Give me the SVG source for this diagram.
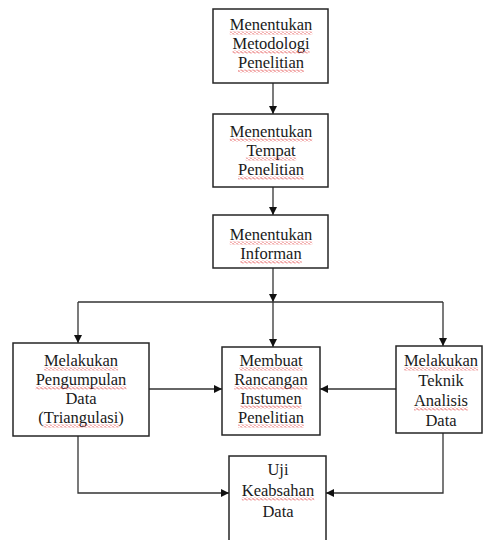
<svg xmlns="http://www.w3.org/2000/svg" width="483" height="540" viewBox="0 0 483 540">
<style>
.box{fill:#fff;stroke:#262626;stroke-width:1.5}
.t{font-family:"Liberation Serif","Times New Roman",serif;font-size:16.5px;fill:#1a1a1a;text-anchor:middle}
.c{fill:none;stroke:#333;stroke-width:1.3}
.sq{fill:url(#wave)}
</style>
<defs>
<pattern id="wave" patternUnits="userSpaceOnUse" width="4" height="3">
<path d="M0,1.5 L1,0.5 L3,2.5 L4,1.5" fill="none" stroke="#d22" stroke-width="0.8"/>
</pattern>
<marker id="ah" markerUnits="userSpaceOnUse" markerWidth="8" markerHeight="8" refX="8" refY="4" orient="auto">
<path d="M0,0 L8,4 L0,8 z" fill="#111"/>
</marker>
</defs>
<rect width="483" height="540" fill="#fff"/>
<g id="connectors">
<path class="c" d="M273,83 V114" marker-end="url(#ah)"/>
<path class="c" d="M273,187 V215" marker-end="url(#ah)"/>
<path class="c" d="M273,268 V302" marker-end="url(#ah)"/>
<path class="c" d="M78,302 H443"/>
<path class="c" d="M78,302 V343" marker-end="url(#ah)"/>
<path class="c" d="M273,302 V347" marker-end="url(#ah)"/>
<path class="c" d="M443,302 V346" marker-end="url(#ah)"/>
<path class="c" d="M149,389 H222" marker-end="url(#ah)"/>
<path class="c" d="M396,389 H320" marker-end="url(#ah)"/>
<path class="c" d="M78,436 V493 H229" marker-end="url(#ah)"/>
<path class="c" d="M443,433 V493 H326" marker-end="url(#ah)"/>
</g>
<g id="n1">
<rect class="box" x="213" y="9" width="115" height="74"/>
<text class="t" x="271" y="30">Menentukan</text>
<text class="t" x="271" y="49">Metodologi</text>
<text class="t" x="271" y="68">Penelitian</text>
<rect class="sq" x="229.8" y="31.5" width="82.5" height="3"/>
<rect class="sq" x="232.5" y="50.5" width="77" height="3"/>
<rect class="sq" x="238" y="69.5" width="66" height="3"/>
</g>
<g id="n2">
<rect class="box" x="213" y="114" width="115" height="73"/>
<text class="t" x="271" y="137">Menentukan</text>
<text class="t" x="271" y="156">Tempat</text>
<text class="t" x="271" y="175">Penelitian</text>
<rect class="sq" x="229.8" y="138.5" width="82.5" height="3"/>
<rect class="sq" x="245.8" y="157.5" width="50.4" height="3"/>
<rect class="sq" x="238" y="176.5" width="66" height="3"/>
</g>
<g id="n3">
<rect class="box" x="213" y="215" width="115" height="53"/>
<text class="t" x="271" y="240">Menentukan</text>
<text class="t" x="271" y="259">Informan</text>
<rect class="sq" x="229.8" y="241.5" width="82.5" height="3"/>
<rect class="sq" x="240.3" y="260.5" width="61.4" height="3"/>
</g>
<g id="n4">
<rect class="box" x="13" y="343" width="136" height="93"/>
<text class="t" x="81" y="366">Melakukan</text>
<text class="t" x="81" y="385">Pengumpulan</text>
<text class="t" x="81" y="404">Data</text>
<text class="t" x="81" y="423">(Triangulasi)</text>
<rect class="sq" x="43.9" y="367.5" width="74.2" height="3"/>
<rect class="sq" x="35.6" y="386.5" width="90.8" height="3"/>
<rect class="sq" x="43.4" y="424.5" width="75.2" height="3"/>
</g>
<g id="n5">
<rect class="box" x="222" y="347" width="98" height="88"/>
<text class="t" x="271" y="366">Membuat</text>
<text class="t" x="271" y="385">Rancangan</text>
<text class="t" x="271" y="404">Instumen</text>
<text class="t" x="271" y="423">Penelitian</text>
<rect class="sq" x="239.4" y="367.5" width="63.2" height="3"/>
<rect class="sq" x="234.3" y="386.5" width="73.3" height="3"/>
<rect class="sq" x="240.3" y="405.5" width="61.4" height="3"/>
<rect class="sq" x="238" y="424.5" width="66" height="3"/>
</g>
<g id="n6">
<rect class="box" x="396" y="346" width="86" height="87"/>
<text class="t" x="441" y="366">Melakukan</text>
<text class="t" x="441" y="386">Teknik</text>
<text class="t" x="441" y="406">Analisis</text>
<text class="t" x="441" y="426">Data</text>
<rect class="sq" x="403.9" y="367.5" width="74.2" height="3"/>
<rect class="sq" x="414" y="407.5" width="54.1" height="3"/>
</g>
<g id="n7">
<rect class="box" x="229" y="456" width="97" height="100"/>
<text class="t" x="278" y="475">Uji</text>
<text class="t" x="278" y="496">Keabsahan</text>
<text class="t" x="278" y="517">Data</text>
<rect class="sq" x="241.8" y="497.5" width="72.4" height="3"/>
</g>
</svg>
